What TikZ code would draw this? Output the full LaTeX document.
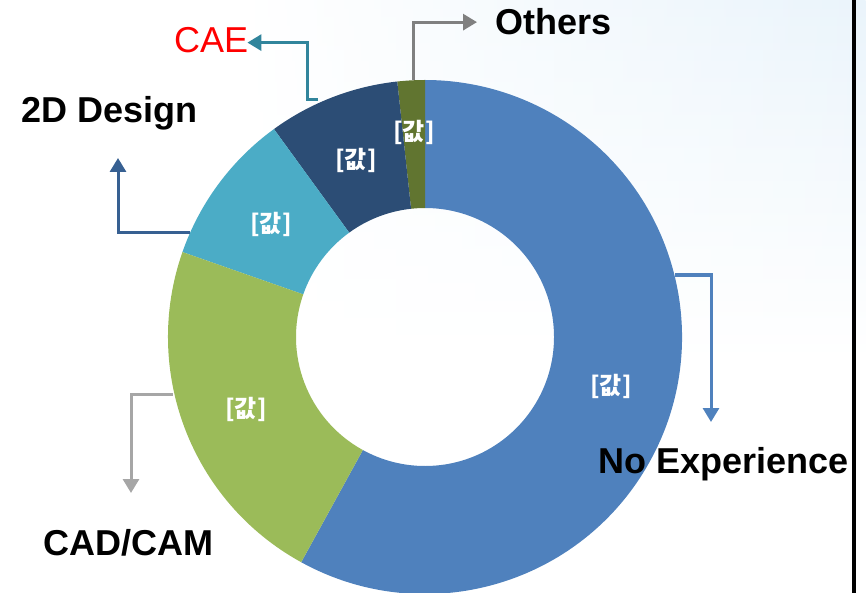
\documentclass[tikz,border=0pt]{standalone}
\usepackage{fontspec}
\setmainfont{Liberation Sans}
\newfontfamily\krfont{Noto Sans CJK KR}
\usetikzlibrary{arrows.meta,fadings,calc}
\definecolor{cBlue}{HTML}{4F81BD}
\definecolor{cOlive}{HTML}{617530}
\definecolor{cNavy}{HTML}{2C4D75}
\definecolor{cLBlue}{HTML}{4BACC6}
\definecolor{cGreen}{HTML}{9BBB59}
\definecolor{cTeal}{HTML}{31859C}
\definecolor{cGrayA}{HTML}{808080}
\definecolor{cGrayB}{HTML}{A6A6A6}
\definecolor{cDBlue}{HTML}{376092}
\definecolor{bgPale}{HTML}{EAF4FB}
\tikzfading[name=fadeleft, left color=transparent!100, right color=transparent!0]
\newcommand\ringslice[3]{\fill[#1] ($(C)+(#2:257)$) arc[start angle=#2,end angle=#3,radius=257] -- ($(C)+(#3:129)$) arc[start angle=#3,end angle=#2,radius=129] -- cycle;}
\begin{document}
\begin{tikzpicture}[x=1pt,y=1pt,
  val/.style={text=white, font=\krfont\bfseries\fontsize{24}{24}\selectfont, inner sep=0pt},
  lab/.style={font=\bfseries\fontsize{36}{36}\selectfont, inner sep=0pt, anchor=base west},
  conn/.style={line width=3pt, -{Triangle[length=14pt,width=16pt]}}]
\useasboundingbox (0,0) rectangle (866,-593);
\shade[top color=bgPale, bottom color=white, path fading=fadeleft] (240,0) rectangle (866,-360);
\coordinate (C) at (425,-337);
\ringslice{cBlue}{-118.8}{90}
\ringslice{cOlive}{90}{96.2}
\ringslice{cNavy}{96.2}{126}
\ringslice{cLBlue}{126}{160.7}
\ringslice{cGreen}{160.7}{241.2}
% value labels
\node[val] (vNE) at (611,-386) {[값]};
\node[val] (vCC) at (246,-409) {[값]};
\node[val] (v2D) at (271,-224) {[값]};
\node[val] (vCAE) at (356,-160) {[값]};
\node[val] (vOth) at (414,-132) {[값]};
% category labels
\node[lab] (oth) at (495,-35) {Others};
\node[lab, font=\fontsize{36}{36}\selectfont, text={rgb,255:red,255;green,0;blue,0}] (cae) at (174,-53) {CAE};
\node[lab] (d2) at (21,-123) {2D Design};
\node[lab] (cc) at (43,-555) {CAD/CAM};
\node[lab] (ne) at (598,-473) {No Experience};
% connectors
\coordinate (sCAE) at (318,-100);
\coordinate (sOth) at (413,-80);
\coordinate (s2D) at (190,-233);
\coordinate (t2D) at (118,-158);
\coordinate (sCC) at (173,-394);
\coordinate (tCC) at (131,-493);
\coordinate (sNE) at (675,-275);
\coordinate (tNE) at (711,-422);
\draw[conn, cTeal] (sCAE) -- ++(-11,0) |- ([xshift=-1pt,yshift=-2pt]cae.east);
\draw[conn, cGrayA] (sOth) |- ([xshift=-18pt]oth.west);
\draw[conn, cDBlue] (s2D) -| (t2D);
\draw[conn, cGrayB] (sCC) -| (tCC);
\draw[conn, cBlue] (sNE) -| (tNE);
% right border line
\draw[line width=4pt] (854,0) -- (854,-593);
\end{tikzpicture}
\end{document}
